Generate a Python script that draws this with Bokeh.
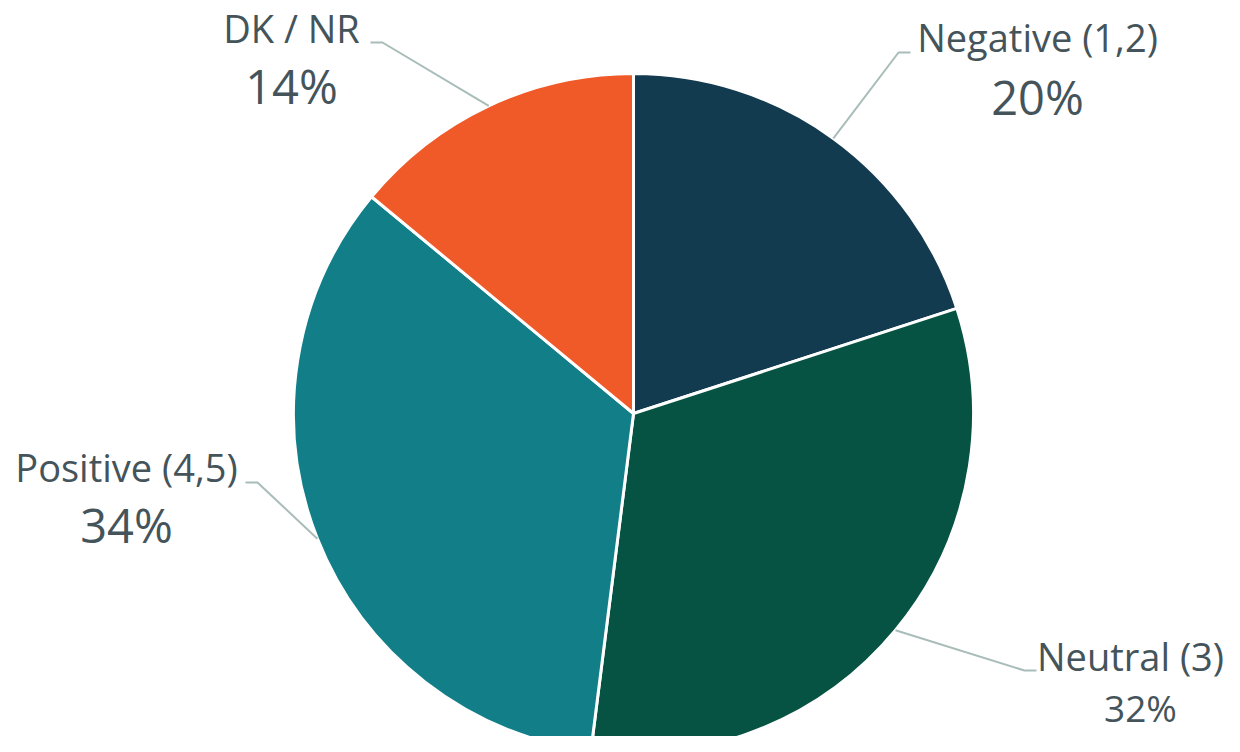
import math
from bokeh.plotting import figure
from bokeh.models import Range1d, ColumnDataSource
from bokeh.core.properties import value
from bokeh.embed import file_html
from bokeh.resources import INLINE

# ---- data ----
categories = ["Negative (1,2)", "Neutral (3)", "Positive (4,5)", "DK / NR"]
percents = [20, 32, 34, 14]
colors = ["#133B50", "#065343", "#127E88", "#EF5A28"]

# ---- layout (pixel coords from the top-left, y measured downward) ----
W, H = 1224, 736
CX, CY, R = 633, 413, 340
NAME_PX = 38
name_pos = [(1037, 52), (1130, 671), (126, 482), (291, 43)]
pct_pos = [(1037, 115), (1140, 722), (126, 543), (291, 104)]
pct_px = [47, 37, 47, 47]
elbow_pts = [((898, 52), (910, 52)), ((1024, 670), (1036, 670)),
             ((257, 482), (245, 482)), ((382, 42), (370, 42))]

TEXT = "#44545A"
LEADER = "#A8BCB9"
FONT = value("Open Sans")
BASE_SHIFT = 0.4  # empirical baseline correction (fraction of font size)


def fy(y):
    # convert screen-down y to data-up y
    return H - y


p = figure(width=W, height=H, output_backend="svg", toolbar_location=None,
           x_range=Range1d(0, W), y_range=Range1d(0, H),
           min_border=0, outline_line_color=None)
p.axis.visible = False
p.grid.visible = False
p.background_fill_color = "white"
p.border_fill_color = "white"

total = float(sum(percents))
starts, ends, mids = [], [], []
acc = 0.0
for v in percents:
    a0 = math.pi / 2 - 2 * math.pi * acc / total
    acc += v
    a1 = math.pi / 2 - 2 * math.pi * acc / total
    starts.append(a0)
    ends.append(a1)
    mids.append((a0 + a1) / 2)

src = ColumnDataSource(dict(start=starts, end=ends, color=colors, cat=categories))
p.wedge(x=CX, y=fy(CY), radius=R, start_angle="start", end_angle="end",
        direction="clock", fill_color="color", line_color="white", line_width=3,
        source=src)

# leader lines
xs, ys = [], []
for m, (e1, e2) in zip(mids, elbow_pts):
    sx = CX + R * math.cos(m)
    sy = fy(CY) + R * math.sin(m)
    xs.append([sx, e1[0], e2[0]])
    ys.append([sy, fy(e1[1]), fy(e2[1])])
p.multi_line(xs=xs, ys=ys, line_color=LEADER, line_width=2)

# labels
p.text(x=[q[0] for q in name_pos],
       y=[fy(q[1] - BASE_SHIFT * NAME_PX) for q in name_pos], text=categories,
       text_font=FONT, text_font_size=f"{NAME_PX}px", text_color=TEXT,
       text_align="center", text_baseline="alphabetic")
pct_labels = [f"{v}%" for v in percents]
for (x, y), t, s in zip(pct_pos, pct_labels, pct_px):
    p.text(x=[x], y=[fy(y - BASE_SHIFT * s)], text=[t], text_font=FONT,
           text_font_size=f"{s}px", text_color=TEXT,
           text_align="center", text_baseline="alphabetic")

open("out.html", "w").write(file_html(p, INLINE))
